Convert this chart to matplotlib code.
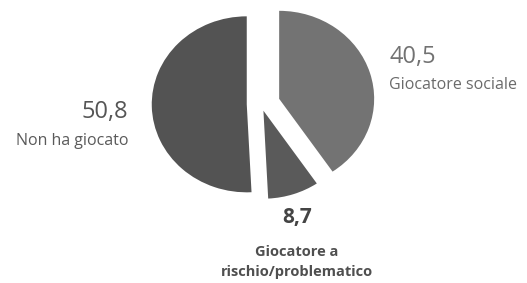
import matplotlib
matplotlib.use("Agg")
import matplotlib.pyplot as plt

# data (clockwise from the top)
categories = ["Giocatore sociale", "Giocatore a\nrischio/problematico", "Non ha giocato"]
values = [40.5, 8.7, 50.8]
value_labels = ["40,5", "8,7", "50,8"]
colors = ["#737373", "#5a5a5a", "#535353"]

W, H = 527, 283
fig = plt.figure(figsize=(W / 100, H / 100), dpi=100)
ax = fig.add_axes([0, 0, 1, 1])

ax.pie(values, colors=colors, startangle=90, counterclock=False,
       explode=[0.2, 0.08, 0.15], radius=1.0,
       wedgeprops=dict(linewidth=0))

# px per unit: 95 across, 88 down; pie centre near (261, 104) px
cx, cy, sx, sy = 261, 104, 95, 88
ax.set_aspect("auto")
ax.set_xlim(-cx / sx, (W - cx) / sx)
ax.set_ylim(-(H - cy) / sy, cy / sy)
ax.axis("off")

def px(x, y):
    return x / W, 1 - y / H

plt.rcParams["font.family"] = ["Open Sans", "DejaVu Sans"]

fig.text(*px(389, 57), value_labels[0], fontsize=17, color="#727272",
         ha="left", va="center")
fig.text(*px(389, 85), categories[0], fontsize=11.5, color="#6a6a6a",
         ha="left", va="center")

fig.text(*px(128, 112), value_labels[2], fontsize=17, color="#555555",
         ha="right", va="center")
fig.text(*px(128, 141), categories[2], fontsize=11.5, color="#5a5a5a",
         ha="right", va="center")

fig.text(*px(297, 217), value_labels[1], fontsize=15, color="#444444",
         ha="center", va="center", fontweight="bold")
fig.text(*px(297, 262), categories[1], fontsize=10.5, color="#4f4f4f",
         ha="center", va="center", fontweight="bold", linespacing=1.55)

fig.savefig("out.png", dpi=100, facecolor="white")
